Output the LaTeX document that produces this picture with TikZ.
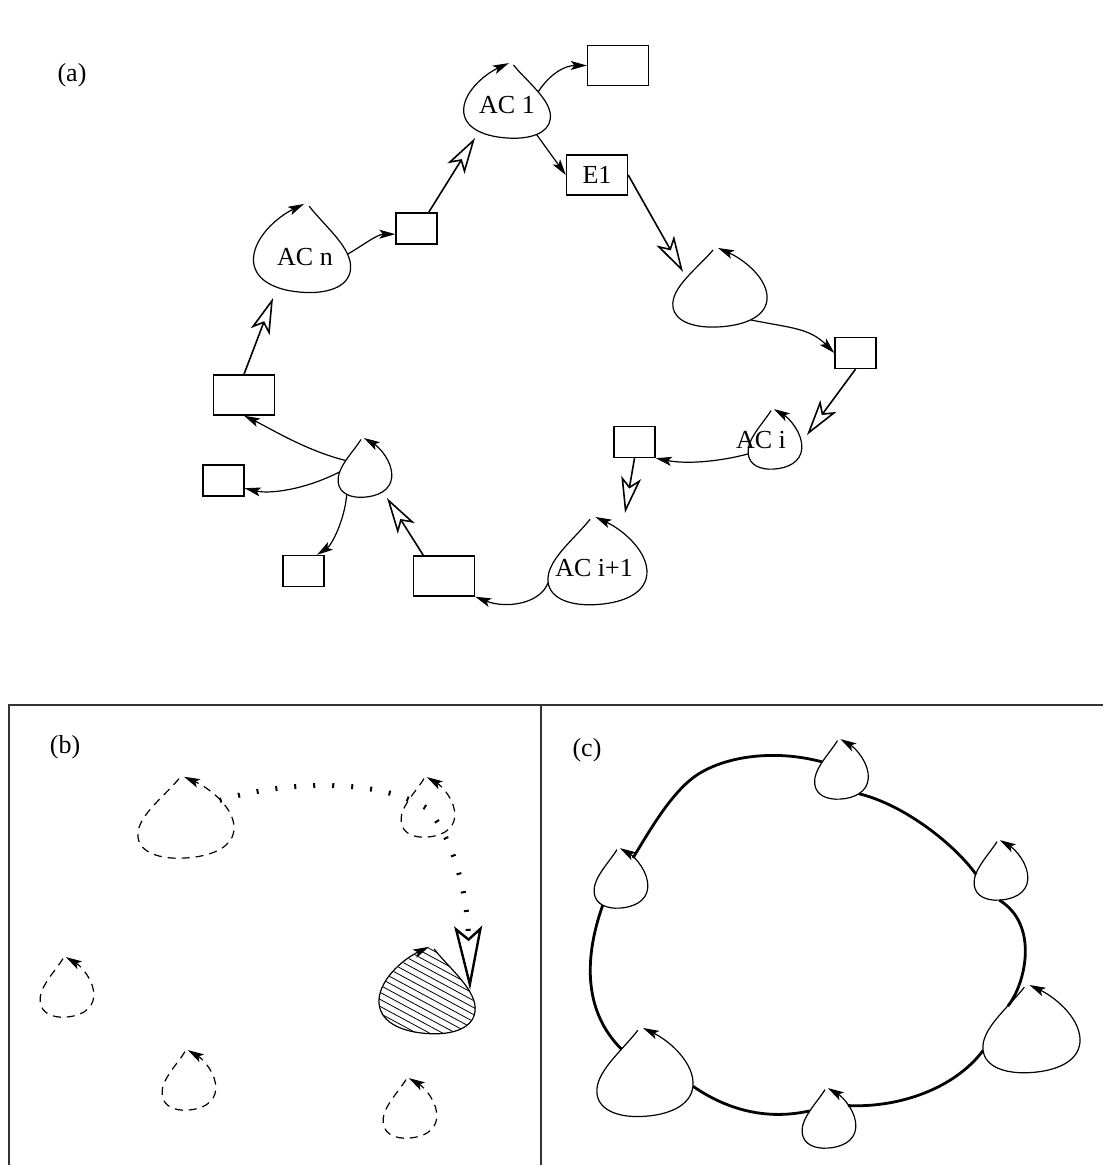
\documentclass[tikz,border=0pt]{standalone}
\usepackage{fontspec}
\setmainfont{Liberation Serif}
\usetikzlibrary{arrows.meta,calc}

% outline of one agent cell: open teardrop, arrow ending at the apex
\newcommand\droppath{(-7,-40) .. controls (-22,-22) and (-50,-2) .. (-47,17)
  .. controls (-45,32) and (-25,38) .. (-3,37)
  .. controls (22,36) and (45,28) .. (47,10)
  .. controls (49,-10) and (25,-30) .. (-2,-42)}

% attachment points, arrow on the right-hand side
\newcommand\portsR{%
  \coordinate (-c) at (0,0);
  \coordinate (-n) at (-2,-42);
  \coordinate (-nne) at (21,-29);
  \coordinate (-ne) at (33,-19);
  \coordinate (-ene) at (47,-3);
  \coordinate (-e) at (47,10);
  \coordinate (-se) at (31,30);
  \coordinate (-s) at (-3,37);
  \coordinate (-sw) at (-32,33);
  \coordinate (-w) at (-47,17);
  \coordinate (-wnw) at (-44,3);
  \coordinate (-nw) at (-34,-12);
  \coordinate (-nnw) at (-23,-23);}
% attachment points, arrow on the left-hand side
\newcommand\portsL{%
  \coordinate (-c) at (0,0);
  \coordinate (-n) at (2,-42);
  \coordinate (-nnw) at (-21,-29);
  \coordinate (-nw) at (-33,-19);
  \coordinate (-wnw) at (-47,-3);
  \coordinate (-w) at (-47,10);
  \coordinate (-sw) at (-31,30);
  \coordinate (-s) at (3,37);
  \coordinate (-se) at (32,33);
  \coordinate (-e) at (47,17);
  \coordinate (-ene) at (44,3);
  \coordinate (-ne) at (34,-12);
  \coordinate (-nne) at (23,-23);}

\tikzset{
  smallhead/.tip={Stealth[length=8pt,width=4.5pt,inset=1.8pt]},
  openhead/.tip={Stealth[open,length=18pt,width=10pt,inset=4.5pt]},
  dropline/.style={line width=0.6pt,-smallhead},
  dropR/.pic={\draw[dropline] \droppath; \portsR},
  dropL/.pic={\draw[dropline,xscale=-1] \droppath; \portsL},
  conn/.style={line width=0.6pt,-smallhead},
  feed/.style={line width=0.8pt,-openhead},
  box/.style={draw,line width=0.7pt,inner sep=0pt,minimum width=30.5pt,minimum height=20pt},
  sbox/.style={box,minimum width=20.5pt,minimum height=15.5pt},
  lbl/.style={font=\fontsize{13}{15}\selectfont,inner sep=0pt},
  ghost/.style={dash pattern=on 4pt off 3pt},
  trail/.style={line width=2.5pt,dash pattern=on 1pt off 8.5pt,
    -{Stealth[open,length=32pt,width=14pt,inset=6pt,line width=1.2pt]}},
  ring/.style={line width=1.4pt},
  frame/.style={line width=0.6pt,black!80},
}

\begin{document}
\begin{tikzpicture}[x=0.5pt,y=-0.5pt]
\useasboundingbox (0,0) rectangle (1103,1165);

%% ---------------- panel (a) ----------------
\node[lbl] (la) at (72,75) {(a)};

% boxes
\node[box] (b1) at (618,65.5) {};
\node[box,font=\fontsize{13}{15}\selectfont] (e1) at (597,175) {E1};
\node[sbox] (b12) at (416.5,228.5) {};
\node[sbox] (rb) at (855.5,353) {};
\node[sbox] (b6) at (634.5,442) {};
\node[box] (b9) at (244,395) {};
\node[sbox] (b10) at (223.5,480.5) {};
\node[sbox] (b11) at (303.5,571) {};
\node[box] (b8) at (444,576) {};

% agent cells
\pic[xscale=0.92,yscale=0.95] (ac1) at (507,103) {dropL};
\pic[xscale=1.03,yscale=1.12] (acn) at (302,251) {dropL};
\pic (d3) at (720,290) {dropR};
\pic[xscale=0.57,yscale=0.76] (aci) at (775,441) {dropR};
\pic[xscale=1.05,yscale=1.11] (acj) at (597.5,563.6) {dropR};
\pic[xscale=0.57,yscale=0.75] (d5) at (365,469.5) {dropR};

\node[lbl] (tac1) at (507,105) {AC 1};
\node[lbl] (tacn) at (305,257) {AC n};
\node[lbl] (taci) at (761,440) {AC i};
\node[lbl] (tacj) at (594,568) {AC i+1};

% ends of the hollow arrows
\coordinate (h1) at (683,272);
\coordinate (h2) at (807,435);
\coordinate (h3) at (625,513);
\coordinate (h4) at (387,498);
\coordinate (h5) at (273,298);
\coordinate (h6) at (475,138);

% connectors
\draw[conn] (ac1-ne) .. controls +(12,-18) and +(-22,0) .. (b1.west);
\draw[conn] (ac1-se) -- (e1.west);
\draw[feed] (e1.east) -- (h1);
\draw[conn] (d3-se) .. controls +(40,8) and +(-25,-25) .. (rb.west);
\draw[feed] (rb.south) -- (h2);
\draw[conn] (aci-w) .. controls +(-30,8) and +(30,6) .. (b6.south east);
\draw[feed] (b6.south) -- (h3);
\draw[conn] (acj-w) .. controls +(-8,22) and +(30,12) .. (b8.south east);
\draw[feed] (b8.135) -- (h4);
\draw[conn] (d5-nw) .. controls +(-40,-10) and +(25,12) .. (b9.south);
\draw[conn] (d5-wnw) .. controls +(-35,18) and +(25,6) .. (b10.-20);
\draw[conn] (d5-sw) .. controls +(-2,25) and +(15,-10) .. (b11.50);
\draw[feed] (b9.north) -- (h5);
\draw[conn] (acn-ene) .. controls +(14,-8) and +(-18,0) .. (b12.195);
\draw[feed] (b12.53) -- (h6);

%% ---------------- frames ----------------
\draw[frame] (9,1165) -- (9,705) -- (1103,705);
\draw[frame] (541,705) -- (541,1165);

%% ---------------- panel (b) ----------------
\node[lbl] (lb) at (65,747) {(b)};

\pic[ghost,xscale=1.02,yscale=1.03] (db1) at (186,820) {dropR};
\pic[ghost,xscale=0.57,yscale=0.76] (db2) at (428,809) {dropR};
\pic[ghost,xscale=0.57,yscale=0.76] (db3) at (67,989) {dropR};
\pic[ghost,xscale=0.57,yscale=0.76] (db4) at (189,1082) {dropR};
\pic[ghost,xscale=0.57,yscale=0.76] (db5) at (410,1110) {dropR};

% hatched cell
\begin{scope}[shift={(427,993)},xscale=-1.02,yscale=1.1]
  \clip \droppath -- cycle;
  \foreach \k in {-80,-73.6,...,80}
    \draw[line width=0.4pt] (-60,\k+30) -- (60,\k-30);
\end{scope}
\pic[xscale=1.02,yscale=1.1] (hd) at (427,993) {dropL};

\coordinate (hb) at (470,990);
\draw[trail] (db1-ne) .. controls (280,782) and (375,776) .. (db2-c)
  .. controls (450,835) and (467,885) .. (hb);

%% ---------------- panel (c) ----------------
\node[lbl] (lc) at (587,750) {(c)};

\pic[xscale=0.57,yscale=0.76] (c1) at (841.5,771) {dropR};
\pic[xscale=0.57,yscale=0.76] (c2) at (1001,872) {dropR};
\pic[xscale=0.57,yscale=0.76] (c3) at (621,880) {dropR};
\pic[xscale=1.03,yscale=1.11] (c4) at (1031.5,1031.6) {dropR};
\pic[xscale=0.57,yscale=0.76] (c5) at (829,1120) {dropR};
\pic[xscale=1.02,yscale=1.12] (c6) at (645,1075) {dropR};

\draw[ring] (c1-nw) .. controls (770,748) and (720,758) .. (694,777)
  .. controls (670,795) and (650,830) .. (c3-nne);
\draw[ring] (c3-sw) .. controls (585,955) and (582,1010) .. (c6-nnw);
\draw[ring] (c6-e) .. controls (720,1105) and (760,1122) .. (c5-nw);
\draw[ring] (c5-ne) .. controls (900,1108) and (955,1088) .. (c4-w);
\draw[ring] (c4-nnw) .. controls (1025,985) and (1040,925) .. (c2-s);
\draw[ring] (c2-wnw) .. controls (955,845) and (905,805) .. (c1-se);

\end{tikzpicture}
\end{document}
